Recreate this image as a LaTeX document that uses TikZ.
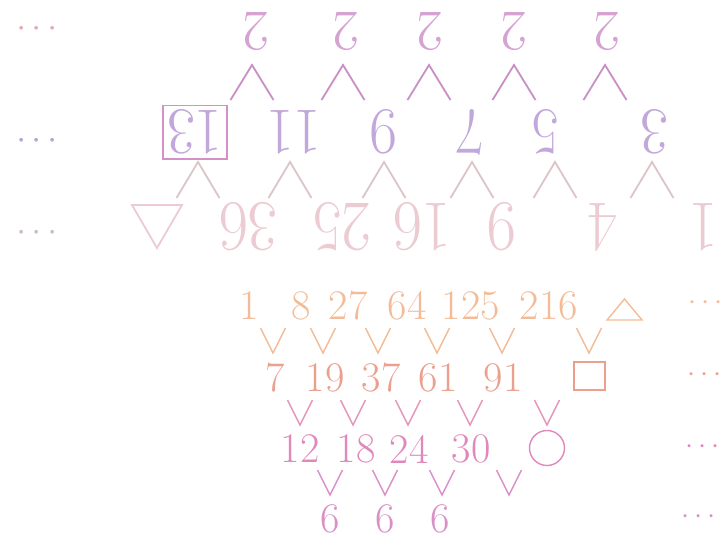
\documentclass[tikz,border=0pt]{standalone}
\usepackage{amssymb}
\definecolor{cubeA}{HTML}{F3BC98}
\definecolor{cubeB}{HTML}{EBA08E}
\definecolor{cubeC}{HTML}{E088BC}
\definecolor{cubeD}{HTML}{D890C6}
\definecolor{veeB}{HTML}{E594BA}
\definecolor{sqA}{HTML}{ECCCD2}
\definecolor{sqB}{HTML}{C2A8DA}
\definecolor{sqC}{HTML}{D6A2D2}
\definecolor{lamA}{HTML}{C990C6}
\definecolor{lamB}{HTML}{DCC4C8}
\definecolor{boxC}{HTML}{D690C8}
\definecolor{dotA}{HTML}{E8AAAE}
\definecolor{dotB}{HTML}{B8A2D8}
\definecolor{dotC}{HTML}{CCBCBE}

\begin{document}
\begin{tikzpicture}[
        x=0.025cm, y=-0.025cm,
        small/.style={font=\fontsize{30}{36}\selectfont, inner sep=0pt},
        big/.style={inner sep=0pt, rotate=180},
        dots/.style={font=\fontsize{20}{24}\selectfont, inner sep=0pt},
        vee/.style={line width=1pt, line join=miter},
        lam/.style={line width=1.3pt, line join=miter}
    ]
    \useasboundingbox (0,0) rectangle (724,535);

    % upside-down table of squares
    \foreach \v/\x [count=\i] in {1/704, 4/603, 9/502, 16/422, 25/342, 36/248}
        \node[big, xscale=0.9, text=sqA, font=\fontsize{51}{60}\selectfont]
            (sq-\i) at (\x,227) {\v};
    \draw[lam, sqA] (132,205) -- (182,205) -- (157,248) -- cycle;
    \foreach \v/\x [count=\i] in {3/655, 5/546, 7/471, 9/384, 11/294}
        \node[big, xscale=0.92, text=sqB, font=\fontsize{47}{56}\selectfont]
            (sqd-\i) at (\x,132) {\v};
    \node[big, xscale=0.92, text=sqB, font=\fontsize{47}{56}\selectfont,
          draw=boxC, line width=1.3pt, inner xsep=3pt, inner ysep=3pt]
          (sqd-6) at (195,132) {13};
    \foreach \x [count=\i] in {607, 514, 430, 346, 256}
        \node[big, text=sqC, font=\fontsize{41}{50}\selectfont]
            (sqdd-\i) at (\x,32) {2};
    \foreach \x in {652, 555, 472, 384, 290, 198}
        \draw[lam, lamB] (\x-21.5,198) -- (\x,162) -- (\x+21.5,198);
    \foreach \x in {605, 514, 429, 343, 252}
        \draw[lam, lamA] (\x-21.5,100) -- (\x,65) -- (\x+21.5,100);
    \node[dots, text=dotA, rotate=180, font=\fontsize{28}{34}\selectfont]
        (ldots-1) at (37,27) {$\cdots$};
    \node[dots, text=dotB, rotate=180, font=\fontsize{28}{34}\selectfont]
        (ldots-2) at (37,139) {$\cdots$};
    \node[dots, text=dotC, rotate=180, font=\fontsize{28}{34}\selectfont]
        (ldots-3) at (37,231) {$\cdots$};

    % table of cubes
    \foreach \v/\x [count=\i] in {1/249, 8/301, 27/348, 64/407, 125/471, 216/549}
        \node[small, text=cubeA] (cu-\i) at (\x,306) {\v};
    \draw[vee, cubeA] (607,320) -- (624.5,299) -- (642,320) -- cycle;
    \foreach \v/\x [count=\i] in {7/275, 19/325, 37/381, 61/438, 91/503}
        \node[small, text=cubeB] (cud-\i) at (\x,378) {\v};
    \draw[vee, cubeB] (574,362) rectangle (605,390);
    \foreach \v/\x [count=\i] in {12/300, 18/356, 24/409, 30/471}
        \node[small, text=cubeC] (cudd-\i) at (\x,449) {\v};
    \draw[vee, cubeC] (547,448) circle [radius=17.5];
    \foreach \x [count=\i] in {330, 385, 440}
        \node[small, text=cubeD] (cuddd-\i) at (\x,519) {6};

    \foreach \x in {273, 323, 378, 437, 502, 589}
        \draw[vee, cubeA] (\x-12.5,328) -- (\x,353) -- (\x+12.5,328);
    \foreach \x in {300, 353, 408, 470, 547}
        \draw[vee, veeB] (\x-12.5,400) -- (\x,425) -- (\x+12.5,400);
    \foreach \x in {330, 385, 442, 509}
        \draw[vee, cubeD] (\x-12.5,470) -- (\x,495) -- (\x+12.5,470);

    \node[dots, text=cubeA] (rdots-1) at (706,303) {$\cdots$};
    \node[dots, text=cubeB] (rdots-2) at (705,375) {$\cdots$};
    \node[dots, text=cubeC] (rdots-3) at (703,447) {$\cdots$};
    \node[dots, text=cubeD] (rdots-4) at (699,517) {$\cdots$};
\end{tikzpicture}
\end{document}
